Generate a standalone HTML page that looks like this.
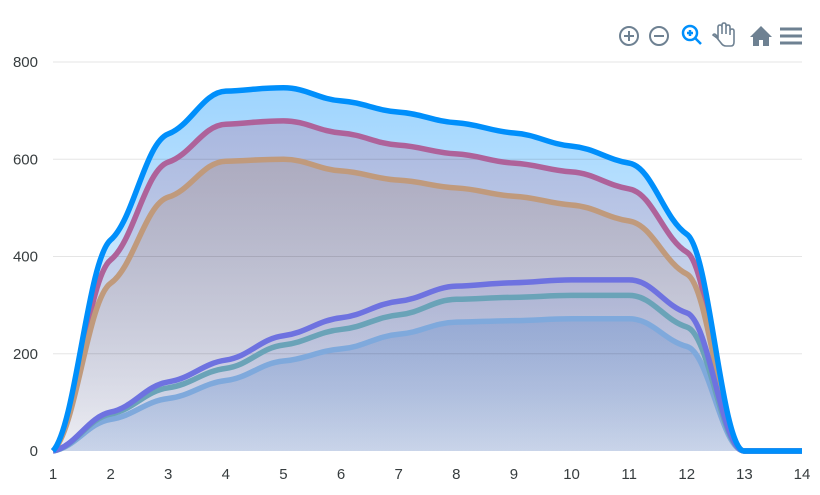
<!DOCTYPE html>
<html><head><meta charset="utf-8"><style>
body{margin:0;background:#fff;font-family:"Liberation Sans",sans-serif}
svg text{font-family:"Liberation Sans",sans-serif;font-size:15px;fill:#373d3f}
</style></head><body>
<svg id="chart" width="820" height="490" xmlns="http://www.w3.org/2000/svg">
<g id="series"></g>
<g id="grid"></g>
<g id="lines"></g>
<g id="axes"></g>
<g fill="none" stroke="#6e8192" stroke-width="2">
 <g><circle cx="629" cy="36" r="9"/><path d="M624 36h10M629 31v10"/></g>
 <g><circle cx="659" cy="36" r="9"/><path d="M654 36h10"/></g>
 <g stroke="#008ffb" stroke-width="2.5"><circle cx="690" cy="33" r="7"/><path d="M695 38l6 6M687 33h6M690 30v6"/></g>
 <g stroke-width="1.6"><path d="M717 38l4 5q2 3 5 3h5q3 0 3-4v-11q0-2-2-2t-2 2v4v-8q0-2-2-2t-2 2v7v-9q0-2-2-2t-2 2v9v-7q0-2-2-2t-2 2v11l-2-3q-2-2-3 0z"/></g>
 <path d="M750 37l11-11 11 11h-3v9h-6v-6h-4v6h-6v-9z" fill="#6e8192" stroke="none"/>
 <g stroke-width="3"><path d="M780 29h22M780 36h22M780 43h22"/></g>
</g>
</svg>
<script>
const categories=[1,2,3,4,5,6,7,8,9,10,11,12,13,14];
const yTicks=[0,200,400,600,800];
const s1=[0,434,652,740,747,720,697,675,654,627,592,446,0,0];
const s2=[0,393,594,672,679,654,629,611,592,574,539,409,0,0];
const s3=[0,345,522,596,600,576,557,541,524,506,473,364,0,0];
const s4=[0,80,142,187,237,274,308,339,346,352,352,284,0,0];
const s5=[0,76,130,170,218,250,280,312,316,320,320,255,0,0];
const s6=[0,65,108,145,185,210,240,265,268,272,272,215,0,0];
const seriesList=[
 {name:'series-1',data:s1,color:'#008ffb',fill:'#008ffb',op:0.38,ob:0.04},
 {name:'series-2',data:s2,color:'#ae629a',fill:'#b06a95',op:0.3,ob:0.05},
 {name:'series-3',data:s3,color:'#c09a7c',fill:'#a88a80',op:0.35,ob:0.05},
 {name:'series-6',data:s6,color:'#7fa9dc',fill:'#5a88cc',op:0.35,ob:0.2},
 {name:'series-5',data:s5,color:'#6aa3b8',fill:'#6aa3b8',op:0.1,ob:0.04},
 {name:'series-4',data:s4,color:'#6e72e0',fill:'#6e72e0',op:0.15,ob:0.03}
];
const NS='http://www.w3.org/2000/svg';
const X=v=>53+(v-1)*(802-53)/13;
const Y=v=>451-v*(451-62)/800;
function mk(t,a,p){const e=document.createElementNS(NS,t);for(const k in a)e.setAttribute(k,a[k]);p.appendChild(e);return e;}
const grid=document.getElementById('grid'),axes=document.getElementById('axes'),sg=document.getElementById('series'),lg=document.getElementById('lines');
yTicks.forEach(t=>{
 if(t>0){const l=mk('line',{x1:53,x2:802,y1:Y(t),y2:Y(t),stroke:'#000','stroke-opacity':0.1},grid);
 
 }
 const tx=mk('text',{x:38,y:Y(t)+5,'text-anchor':'end'},axes);tx.textContent=t;
 
 
});
categories.forEach(c=>{
 const tx=mk('text',{x:X(c),y:479,'text-anchor':'middle'},axes);tx.textContent=c;
 
 
});
function smooth(xs,ys){
 const n=xs.length,d=[],m=[];
 for(let i=0;i<n-1;i++)d.push((ys[i+1]-ys[i])/(xs[i+1]-xs[i]));
 for(let i=0;i<n;i++){
  if(i==0)m.push(d[0]*0.3);else if(i==n-1)m.push(d[n-2]*0.3);
  else m.push(d[i-1]*d[i]<=0?0:0.35*2/(1/d[i-1]+1/d[i]));
 }
 let p='M'+xs[0]+','+ys[0];
 for(let i=0;i<n-1;i++){const h=(xs[i+1]-xs[i])*0.4;
  p+=`C${xs[i]+h},${ys[i]+m[i]*h} ${xs[i+1]-h},${ys[i+1]-m[i+1]*h} ${xs[i+1]},${ys[i+1]}`;}
 return p;
}
const defs=mk('defs',{},sg);
const linePaths=[];
seriesList.forEach((s,i)=>{
 const g=mk('linearGradient',{id:'g'+i,x1:0,y1:0,x2:0,y2:1},defs);
 mk('stop',{offset:0,'stop-color':s.fill,'stop-opacity':s.op},g);
 mk('stop',{offset:1,'stop-color':s.fill,'stop-opacity':s.ob},g);
 const xs=categories.map(X),ys=s.data.map(Y);
 const line=smooth(xs,ys);
 const a=mk('path',{d:line+`L${X(14)},451L${X(1)},451Z`,fill:`url(#g${i})`},sg);
 
 
 linePaths.push([s,line]);
});
linePaths.slice(1).concat([linePaths[0]]).forEach(([s,line])=>{
 const l=mk('path',{d:line,fill:'none',stroke:s.color,'stroke-width':5.5,'stroke-linejoin':'round'},lg);
 
 
});
</script>
</body></html>
